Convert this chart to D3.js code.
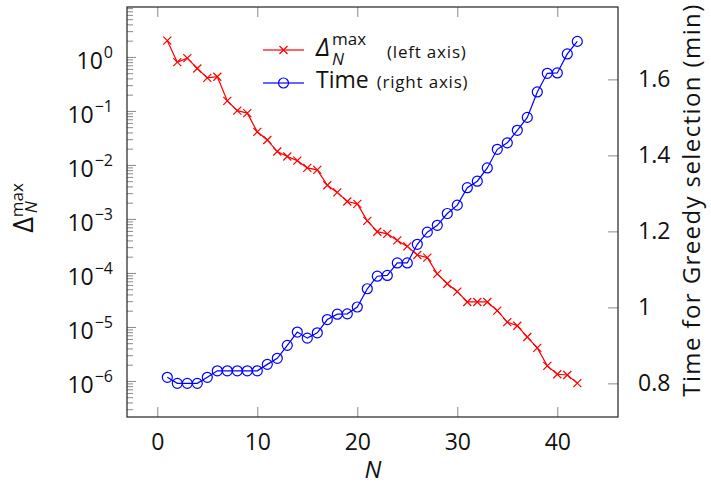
<!DOCTYPE html>
<html>
<head>
<meta charset="utf-8">
<script src="https://cdn.jsdelivr.net/npm/d3@7"></script>
<style>
  body { margin: 0; background: #fff; }
  svg text { font-family: "Open Sans", "DejaVu Sans", sans-serif; fill: #111; }
</style>
</head>
<body>
<svg id="chart" width="711" height="485"></svg>
<script>
// N = 1..42
var nValues = d3.range(1, 43);
var deltaMax = [2.0, 0.8, 0.95, 0.61, 0.41, 0.43, 0.153, 0.101, 0.091, 0.041,
    0.029, 0.0177, 0.0143, 0.012, 0.0088, 0.0081, 0.0042, 0.0031, 0.0021, 0.0019,
    0.00092, 0.00058, 0.00053, 0.00040, 0.00031, 0.000215, 0.000192, 9.6e-5, 6.3e-5, 4.5e-5,
    2.9e-5, 2.9e-5, 2.9e-5, 2.0e-5, 1.23e-5, 1.05e-5, 6.5e-6, 4.1e-6, 1.9e-6, 1.33e-6,
    1.29e-6, 9.1e-7];
var greedyTime = [0.816, 0.800, 0.800, 0.800, 0.816, 0.833, 0.833, 0.833, 0.833, 0.833,
    0.850, 0.866, 0.900, 0.935, 0.919, 0.933, 0.968, 0.982, 0.983, 1.001,
    1.049, 1.082, 1.084, 1.117, 1.117, 1.166, 1.198, 1.216, 1.247, 1.269,
    1.315, 1.332, 1.367, 1.416, 1.433, 1.466, 1.500, 1.567, 1.616, 1.617,
    1.667, 1.700];
var xTicks = [0, 10, 20, 30, 40];
var rightTicks = [0.8, 1, 1.2, 1.4, 1.6];
var rightTickLabels = ["0.8", "1", "1.2", "1.4", "1.6"];

var pLeft = 127, pRight = 618, pTop = 7, pBottom = 417;
var svg = d3.select("#chart");

var x = d3.scaleLinear().domain([-3.03, 46.07]).range([pLeft, pRight]);
var yL = d3.scaleLog().domain([2.15e-7, 8.4]).range([pBottom, pTop]);
var yR = d3.scaleLinear().domain([0.7115, 1.7905]).range([pBottom, pTop]);

var tickColor = "#8a8a8a";
var fs = 23, fsSmall = 16;

function isMajor(d) {
    return Math.abs(Math.log10(d) - Math.round(Math.log10(d))) < 1e-9;
}

// bottom axis, ticks pointing inward
var xAxis = svg.append("g")
    .attr("transform", "translate(0," + pBottom + ")")
    .call(d3.axisBottom(x).tickValues(xTicks).tickSizeInner(-10).tickSizeOuter(0).tickPadding(17));
xAxis.select(".domain").remove();
xAxis.selectAll(".tick line").attr("stroke", tickColor);
xAxis.selectAll(".tick text").attr("font-size", fs).attr("fill", "#111")
    .attr("font-family", null);

// top mirror ticks
var xTop = svg.append("g")
    .attr("transform", "translate(0," + pTop + ")")
    .call(d3.axisTop(x).tickValues(xTicks).tickSizeInner(-10).tickSizeOuter(0).tickFormat(""));
xTop.select(".domain").remove();
xTop.selectAll(".tick line").attr("stroke", tickColor);

// left log axis
var logTicks = yL.ticks();
var yAxisL = svg.append("g")
    .attr("transform", "translate(" + pLeft + ",0)")
    .call(d3.axisRight(yL).tickValues(logTicks).tickFormat("").tickSizeOuter(0));
yAxisL.select(".domain").remove();
yAxisL.selectAll(".tick line")
    .attr("stroke", tickColor)
    .attr("x2", function(d) { return isMajor(d) ? 9 : 6; });

var majors = logTicks.filter(isMajor);
var majorLabels = svg.append("g").selectAll("text")
    .data(majors)
    .enter()
    .append("text")
    .attr("x", 113)
    .attr("y", function(d) { return yL(d) + 12; })
    .attr("text-anchor", "end")
    .attr("font-size", fs);
majorLabels.append("tspan").text("10");
majorLabels.append("tspan")
    .attr("dy", -11)
    .attr("dx", 1)
    .attr("font-size", fsSmall)
    .text(function(d) {
        var e = Math.round(Math.log10(d));
        return e < 0 ? "\u2212" + (-e) : String(e);
    });

// right linear axis
var yAxisR = svg.append("g")
    .attr("transform", "translate(" + pRight + ",0)")
    .call(d3.axisRight(yR).tickValues(rightTicks).tickSizeInner(-10).tickSizeOuter(0).tickPadding(20)
        .tickFormat(function(d, i) { return rightTickLabels[i]; }));
yAxisR.select(".domain").remove();
yAxisR.selectAll(".tick line").attr("stroke", tickColor);
yAxisR.selectAll(".tick text").attr("font-size", fs).attr("fill", "#111")
    .attr("font-family", null);

// frame
svg.append("rect")
    .attr("x", pLeft).attr("y", pTop)
    .attr("width", pRight - pLeft).attr("height", pBottom - pTop)
    .attr("fill", "none").attr("stroke", "#222").attr("stroke-width", 1.2);

// axis titles
svg.append("text")
    .attr("x", 373).attr("y", 478)
    .attr("text-anchor", "middle")
    .attr("font-size", 24).attr("font-style", "italic")
    .text("N");

var lt = svg.append("text")
    .attr("transform", "translate(33,208) rotate(-90)")
    .attr("text-anchor", "middle")
    .attr("font-size", 27);
lt.append("tspan").text("\u0394");
lt.append("tspan").attr("font-size", fsSmall + 1).attr("dy", -10).text("max");
lt.append("tspan").attr("font-size", fsSmall + 1).attr("font-style", "italic")
    .attr("dx", -30).attr("dy", 14).text("N");

svg.append("text")
    .attr("transform", "translate(700,200) rotate(-90)")
    .attr("text-anchor", "middle")
    .attr("font-size", 24)
    .attr("letter-spacing", 1.4)
    .text("Time for Greedy selection (min)");

// series
var redLine = d3.line()
    .x(function(d, i) { return x(nValues[i]); })
    .y(function(d) { return yL(d); });
var blueLine = d3.line()
    .x(function(d, i) { return x(nValues[i]); })
    .y(function(d) { return yR(d); });

svg.append("path").datum(deltaMax)
    .attr("d", redLine)
    .attr("fill", "none").attr("stroke", "#ff0000").attr("stroke-width", 1.2);

svg.append("g").selectAll("path")
    .data(deltaMax)
    .enter()
    .append("path")
    .attr("transform", function(d, i) { return "translate(" + x(nValues[i]) + "," + yL(d) + ")"; })
    .attr("d", "M-4,-4L4,4M-4,4L4,-4")
    .attr("stroke", "#ff0000").attr("stroke-width", 1.2);

svg.append("path").datum(greedyTime)
    .attr("d", blueLine)
    .attr("fill", "none").attr("stroke", "#0000ff").attr("stroke-width", 1.2);

svg.append("g").selectAll("circle")
    .data(greedyTime)
    .enter()
    .append("circle")
    .attr("cx", function(d, i) { return x(nValues[i]); })
    .attr("cy", function(d) { return yR(d); })
    .attr("r", 5)
    .attr("fill", "none")
    .attr("stroke", "#0000ff").attr("stroke-width", 1.2);

// legend
var legend = svg.append("g");
legend.append("line")
    .attr("x1", 263).attr("x2", 304).attr("y1", 50).attr("y2", 50)
    .attr("stroke", "#ff0000").attr("stroke-opacity", 0.6).attr("stroke-width", 1.8);
legend.append("path")
    .attr("transform", "translate(283.5,50)")
    .attr("d", "M-4,-4L4,4M-4,4L4,-4")
    .attr("stroke", "#ff0000").attr("stroke-width", 1.2);
legend.append("line")
    .attr("x1", 263).attr("x2", 304).attr("y1", 83).attr("y2", 83)
    .attr("stroke", "#0000ff").attr("stroke-opacity", 0.6).attr("stroke-width", 1.8);
legend.append("circle")
    .attr("cx", 283.5).attr("cy", 83).attr("r", 5)
    .attr("fill", "none").attr("stroke", "#0000ff").attr("stroke-width", 1.2);

var l1 = legend.append("text").attr("x", 316).attr("y", 56).attr("font-size", 25);
l1.append("tspan").attr("font-style", "italic").text("\u0394");
l1.append("tspan").attr("font-size", fsSmall + 1).attr("dx", 2).attr("dy", -11).text("max");
l1.append("tspan").attr("font-size", fsSmall + 1).attr("font-style", "italic")
    .attr("dx", -34).attr("dy", 20).text("N");
legend.append("text").attr("x", 387).attr("y", 58)
    .attr("font-size", 17).attr("letter-spacing", 0.8).text("(left axis)");

var l2 = legend.append("text").attr("x", 316).attr("y", 88).attr("font-size", fs);
l2.append("tspan").text("Time");
l2.append("tspan").attr("font-size", 17).attr("letter-spacing", 0.8).attr("dx", 8).text("(right axis)");
</script>
</body>
</html>
